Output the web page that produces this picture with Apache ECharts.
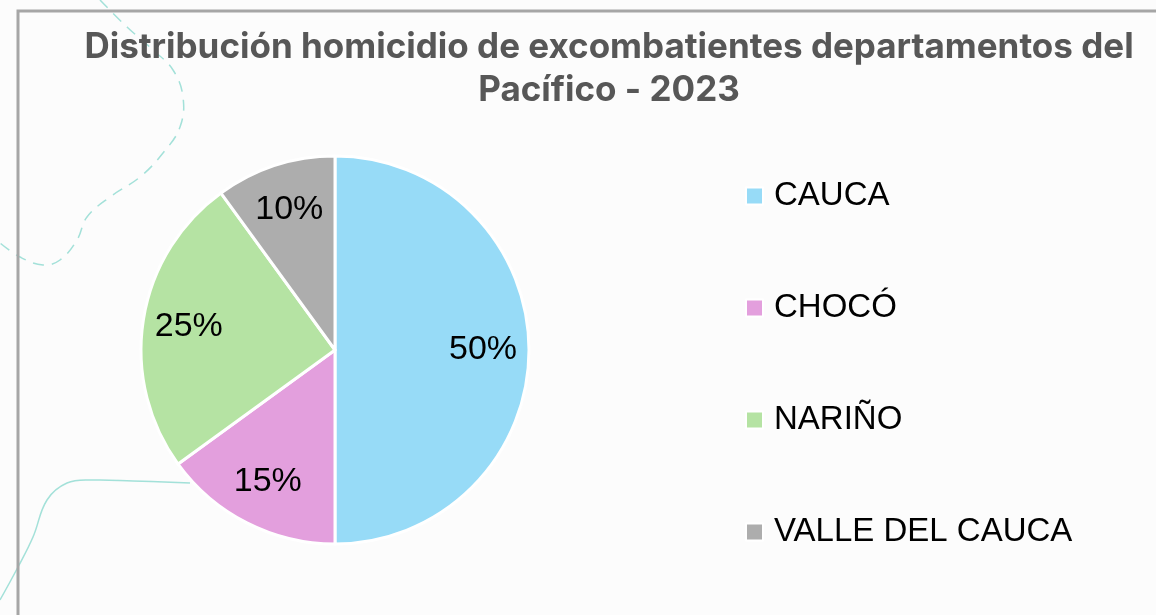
<!DOCTYPE html>
<html>
<head>
<meta charset="utf-8">
<script src="https://cdn.jsdelivr.net/npm/echarts@6/dist/echarts.min.js"></script>
<style>
  html, body { margin: 0; padding: 0; background: #fcfcfc; }
  #chart { width: 1156px; height: 615px; }
</style>
</head>
<body>
<div id="chart"></div>
<script>
// Homicidios de excombatientes por departamento del Pacífico, 2023 (participación %)
const departamentos = ['CAUCA', 'CHOCÓ', 'NARIÑO', 'VALLE DEL CAUCA'];
const porcentajes = [50, 15, 25, 10];
const colores = ['#97dbf7', '#e39fdd', '#b5e3a3', '#adadad'];
const titulo = 'Distribución homicidio de excombatientes departamentos del\nPacífico - 2023';

const datos = departamentos.map((d, i) => ({
  name: d,
  value: porcentajes[i],
  itemStyle: { color: colores[i] }
}));

const chart = echarts.init(document.getElementById('chart'), null, { renderer: 'canvas' });

// decorative teal strokes in the background
const trazoPunteado = [[100,0],[127,27],[153,50],[173,70],[183,97],[180,127],[163,153],[140,177],[110,197],[87,217],[77,240],[60,260],[43,265],[20,257],[0,243]];
const trazoContinuo = [[0,600],[18,567],[33,537],[47,500],[67,483],[93,480],[133,481],[190,483]];

chart.setOption({
  backgroundColor: '#fcfcfc',
  animation: false,
  title: {
    text: titulo,
    left: 604,
    top: 21,
    textAlign: 'center',
    textStyle: {
      fontFamily: 'Inter',
      fontWeight: 'bold',
      fontSize: 35,
      lineHeight: 43,
      color: '#575757'
    }
  },
  legend: {
    orient: 'vertical',
    left: 740,
    top: 171,
    icon: 'rect',
    itemWidth: 17,
    itemHeight: 17,
    itemGap: 72,
    data: departamentos,
    textStyle: {
      fontFamily: 'Liberation Sans',
      fontSize: 33,
      lineHeight: 40,
      color: '#000000',
      padding: [0, 0, 0, 6]
    }
  },
  graphic: [
    { type: 'polyline', z: -10, silent: true,
      shape: { points: trazoPunteado, smooth: 0.4 },
      style: { stroke: 'rgba(140,218,208,0.8)', lineWidth: 1.5, lineDash: [11, 8], fill: null } },
    { type: 'polyline', z: -10, silent: true,
      shape: { points: trazoContinuo, smooth: 0.4 },
      style: { stroke: 'rgba(140,218,208,0.8)', lineWidth: 1.5, fill: null } },
    { type: 'polyline', z: -5, silent: true,
      shape: { points: [[18, 1000], [18, 11], [1200, 11]] },
      style: { stroke: '#a6a6a6', lineWidth: 3, fill: null } }
  ],
  series: [
    {
      name: 'Homicidios',
      type: 'pie',
      center: [335, 350],
      radius: 194,
      startAngle: 90,
      clockwise: true,
      label: { show: false },
      labelLine: { show: false },
      emphasis: { disabled: true },
      itemStyle: { borderColor: '#ffffff', borderWidth: 3 },
      data: datos
    },
    {
      // transparent ring that carries the percentage labels
      name: 'Etiquetas',
      type: 'pie',
      center: [335, 350],
      radius: [96, 194],
      startAngle: 90,
      clockwise: true,
      silent: true,
      legendHoverLink: false,
      emphasis: { disabled: true },
      itemStyle: { color: 'rgba(0,0,0,0)', borderWidth: 0 },
      label: {
        show: true,
        position: 'inside',
        formatter: '{c}%',
        fontFamily: 'Liberation Sans',
        fontSize: 34,
        color: '#000000'
      },
      labelLine: { show: false },
      data: departamentos.map((d, i) => ({ name: d, value: porcentajes[i] }))
    }
  ]
});
</script>
</body>
</html>
